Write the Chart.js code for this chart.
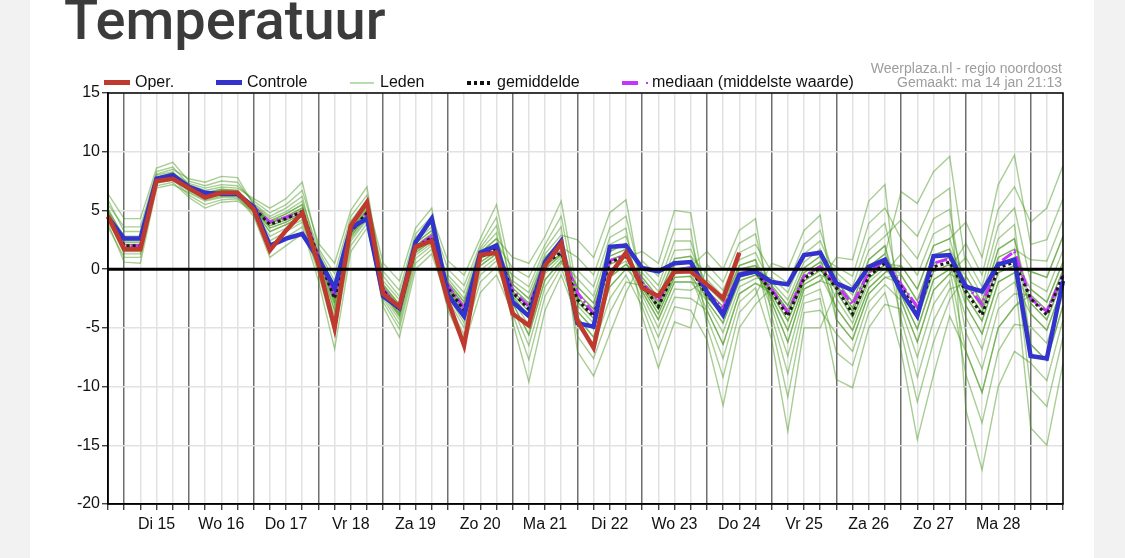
<!DOCTYPE html>
<html>
<head>
<meta charset="utf-8">
<script src="https://cdn.jsdelivr.net/npm/chart.js@4.4.1/dist/chart.umd.min.js"></script>
<style>
html,body{margin:0;padding:0;}
body{width:1125px;height:558px;background:#f2f2f2;position:relative;overflow:hidden;font-family:"Liberation Sans",Arial,sans-serif;}
#panel{position:absolute;left:30px;top:0;width:1064px;height:558px;background:#fff;}
#cv{position:absolute;left:0;top:0;}
#title{position:absolute;left:64px;top:-8px;font-family:Roboto,sans-serif;font-weight:500;font-size:56px;line-height:56px;color:#3b3b3b;white-space:nowrap;}
.lg{position:absolute;top:74px;font-size:16px;line-height:16px;color:#111;white-space:nowrap;}
.sw{position:absolute;}
.src{position:absolute;right:63px;font-size:14px;line-height:14px;color:#9d9d9d;white-space:nowrap;}
</style>
</head>
<body>
<div id="panel"></div>
<canvas id="cv" width="1125" height="558"></canvas>
<div id="title">Temperatuur</div>

<div class="sw" style="left:104px;top:80px;width:26px;height:5px;background:#c0392f;"></div>
<div class="lg" style="left:135px;">Oper.</div>
<div class="sw" style="left:216px;top:80px;width:26px;height:5px;background:#3232cc;"></div>
<div class="lg" style="left:247px;">Controle</div>
<div class="sw" style="left:350px;top:82px;width:24px;height:1.5px;background:#b9dcae;"></div>
<div class="lg" style="left:380px;">Leden</div>
<div class="sw" style="left:467px;top:81px;width:3.5px;height:3.5px;background:#111;"></div>
<div class="sw" style="left:473.5px;top:81px;width:3.5px;height:3.5px;background:#111;"></div>
<div class="sw" style="left:480px;top:81px;width:3.5px;height:3.5px;background:#111;"></div>
<div class="sw" style="left:486.5px;top:81px;width:3.5px;height:3.5px;background:#111;"></div>
<div class="lg" style="left:497px;">gemiddelde</div>
<div class="sw" style="left:622px;top:81px;width:16px;height:4px;background:#c832ff;"></div>
<div class="sw" style="left:645.5px;top:82px;width:2px;height:2px;background:#c832ff;"></div>
<div class="lg" style="left:652px;">mediaan (middelste waarde)</div>

<div class="src" style="top:61px;">Weerplaza.nl - regio noordoost</div>
<div class="src" style="top:75px;">Gemaakt: ma 14 jan 21:13</div>

<script>
// ---- categories / tick labels ----
const dayLabels = ['Di 15','Wo 16','Do 17','Vr 18','Za 19','Zo 20','Ma 21','Di 22','Wo 23','Do 24','Vr 25','Za 26','Zo 27','Ma 28'];
const hoursOfDay = ['00:00','06:00','12:00','18:00'];
const yTicks = [-20,-15,-10,-5,0,5,10,15];

// ---- series values (°C), 6-hourly from ma 14 18:00 ----
const oper = [4.5, 1.7,1.7,7.5,7.7, 6.9,6.1,6.5,6.5, 5.1,1.6,3.3,4.8, 0.4,-5.0,3.7,5.7, -2.1,-3.2,1.9,2.4, -2.7,-6.5,1.2,1.4, -3.8,-4.8,0.3,2.2, -4.4,-6.7,-0.5,1.4, -1.6,-2.3,-0.2,-0.2, -1.3,-2.5,1.4];
const controle = [4.4, 2.6,2.6,7.7,8.0, 7.0,6.5,6.4,6.4, 5.3,2.0,2.6,3.0, 0.9,-1.6,3.5,4.3, -2.3,-3.3,2.3,4.3, -2.2,-4.0,1.4,2.0, -2.8,-4.0,0.6,2.4, -4.6,-4.9,1.9,2.0, 0.1,-0.2,0.5,0.6, -1.9,-3.9,-0.5,-0.2, -1.1,-1.3,1.2,1.4, -1.2,-1.8,0.2,0.8, -1.9,-4.0,1.1,1.2, -1.5,-1.9,0.4,0.8, -7.4,-7.6,-1.0];
const gemiddelde = [4.5, 2.0,2.0,7.6,7.9, 6.9,6.3,6.5,6.5, 5.2,3.8,4.3,4.9, 1.0,-2.5,3.2,4.8, -1.8,-3.5,1.8,2.7, -1.6,-3.5,1.0,1.8, -2.0,-3.4,0.5,1.4, -2.6,-4.0,0.6,1.1, -1.3,-3.2,-0.2,0.0, -2.2,-3.6,-0.5,-0.2, -1.9,-4.0,-0.8,0.1, -1.6,-3.8,-0.6,0.5, -1.5,-3.8,0.2,0.6, -1.9,-3.9,0.1,0.6, -2.5,-3.9,-0.5];
const mediaan = [4.5, 2.0,2.0,7.6,7.9, 6.9,6.3,6.5,6.5, 5.3,4.0,4.4,4.9, 1.1,-2.3,3.3,4.8, -1.7,-3.4,1.9,2.8, -1.4,-3.3,1.1,1.9, -1.8,-3.2,0.6,1.5, -2.0,-3.8,0.7,1.2, -1.1,-2.7,-0.1,0.1, -2.0,-3.3,-0.4,-0.1, -1.7,-3.7,-0.6,0.2, -1.3,-3.0,-0.3,0.8, -1.3,-3.2,0.5,0.9, -1.3,-3.0,0.5,1.5, -2.5,-3.6,-0.5];

// ---- ensemble members (Leden) ----
const leden01 = [4.7, 1.9,1.9,7.6,7.9, 7.0,6.4,6.7,6.6, 5.1,3.5,4.0,4.7, 1.3,-1.8,3.6,5.3, -2.3,-4.3,1.2,2.2, -0.8,-2.5,1.6,3.1, -3.3,-6.5,-1.5,0.5, -0.1,-1.5,2.7,3.5, -4.0,-8.4,-4.5,-5.0, 0.4,-1.1,2.2,3.0, -2.8,-6.2,-1.7,-1.0, 1.0,0.8,5.8,7.2, -5.4,-11.3,-6.2,-2.6, -0.6,-2.8,1.7,2.6, -2.9,-4.3,-0.8];
const leden02 = [4.6, 2.3,2.3,7.7,8.0, 6.8,6.2,6.4,6.3, 5.4,4.1,4.7,5.5, 0.6,-3.5,2.8,4.5, -1.0,-2.6,2.4,3.6, -2.6,-5.0,-0.5,0.7, -0.5,-1.5,1.7,3.6, -7.0,-9.1,-5.5,-2.0, 0.7,-0.6,3.4,3.4, -4.9,-9.2,-3.7,-2.2, 0.5,0.0,3.3,4.6, -4.3,-6.0,-2.1,-0.7, -1.2,-3.4,0.5,1.0, -2.3,-4.4,-0.3,0.3, -0.2,-0.7,2.8];
const leden03 = [4.8, 2.1,2.1,7.6,8.0, 7.1,6.5,6.8,6.7, 5.2,3.7,4.2,4.8, 1.4,-1.5,3.8,5.6, -2.0,-3.8,1.6,2.5, -0.5,-2.0,1.8,3.7, -1.6,-2.9,0.8,1.9, 1.0,-0.5,3.5,4.5, -1.2,-3.1,0.0,0.2, 1.5,0.0,3.3,4.3, -4.0,-8.9,-2.9,-2.5, -9.4,-10.1,-5.0,-3.0, -3.4,-7.5,-3.0,-1.0, -9.0,-13.1,-7.0,-4.7, -4.9,-6.3,-2.2];
const leden04 = [4.5, 1.7,1.7,7.5,7.8, 6.9,6.3,6.5,6.4, 5.3,4.0,4.5,5.2, 1.0,-2.4,3.3,4.9, -1.3,-3.0,2.2,3.3, -1.3,-3.1,1.2,2.2, 0.1,-0.7,2.1,4.5, -2.8,-4.2,0.4,1.0, 1.5,0.5,5.0,4.8, -3.0,-5.4,-1.5,-0.8, -0.7,-2.0,1.3,2.4, -0.7,-2.2,1.6,2.8, 4.2,2.8,5.9,6.9, -12.0,-17.1,-10.0,-7.0, -8.0,-9.5,-4.3];
const leden05 = [5.0, 2.8,2.8,8.0,8.3, 6.9,6.3,6.6,6.5, 5.0,3.2,3.8,4.5, 0.8,-3.0,3.0,4.6, -2.5,-4.7,0.9,2.0, -3.5,-6.5,-2.0,-0.5, -3.8,-7.7,-2.3,0.1, -3.6,-5.1,-0.7,0.4, -0.7,-2.4,0.9,1.1, -0.4,-1.8,1.4,2.1, -0.2,-1.2,2.1,3.3, -1.3,-3.3,0.2,1.3, 6.6,5.6,8.3,9.6, 0.2,-2.2,2.6,3.8, -6.4,-7.8,-3.1];
const leden06 = [4.4, 1.8,1.8,7.5,7.8, 6.6,5.9,6.2,6.2, 5.2,3.9,4.4,5.0, 1.1,-2.1,3.4,5.1, -0.2,-1.8,3.0,4.5, 0.7,-0.5,2.6,5.5, -1.0,-2.0,1.3,2.9, 2.5,1.0,4.8,5.9, -1.6,-3.8,-0.7,-0.6, -4.1,-7.6,-2.8,-1.6, -6.0,-13.8,-5.0,-5.0, -1.9,-4.1,-0.8,0.4, 0.3,-1.7,2.0,2.6, 4.0,1.0,7.2,9.7, 2.1,2.5,6.0];
const leden07 = [5.2, 2.5,2.5,7.8,8.2, 7.3,6.9,7.2,7.1, 5.8,4.8,5.5,6.7, 2.2,0.5,5.0,7.0, -1.5,-3.2,2.0,3.0, -1.7,-3.6,0.9,1.7, -2.6,-4.8,-0.4,1.0, -1.5,-2.9,1.5,2.2, 0.1,-1.4,2.4,2.4, -2.1,-3.5,-0.3,0.0, -3.3,-7.4,-2.3,-1.7, -7.1,-8.2,-3.7,-2.0, -7.0,-14.5,-9.0,-4.0, -7.0,-10.5,-5.0,-3.2, -1.7,-2.8,0.6];
const leden08 = [4.3, 1.3,1.3,7.3,7.6, 6.7,6.1,6.3,6.3, 4.7,1.8,2.7,3.6, -1.0,-6.8,1.5,3.5, -1.9,-3.6,1.7,2.6, -1.1,-2.8,1.4,2.6, 1.0,0.5,2.8,5.8, -2.0,-3.4,1.1,1.7, -2.2,-5.0,-1.7,-1.8, -0.9,-2.3,0.8,1.4, -1.4,-3.1,0.1,1.1, 0.2,-0.6,3.9,5.2, 2.6,0.9,4.3,5.1, -3.1,-5.5,-1.1,-0.3, -13.5,-15.0,-8.0];
const leden09 = [5.5, 3.6,3.6,8.3,8.7, 7.2,6.7,7.0,6.9, 6.0,5.2,6.0,7.4, 1.8,-0.4,4.5,6.3, -0.6,-2.3,2.7,4.0, 0.0,-1.4,2.1,4.4, -2.1,-3.6,0.3,1.3, -4.8,-6.6,-2.5,-0.5, -3.2,-6.8,-3.2,-3.5, -6.0,-11.6,-5.0,-3.0, -1.6,-3.5,-0.3,0.6, -0.3,-1.5,2.6,3.9, -2.2,-5.1,-0.9,0.0, 2.2,-0.5,5.1,7.0, 4.0,5.2,8.8];
const leden10 = [4.1, 1.5,1.5,7.4,7.7, 6.3,5.5,5.9,6.0, 5.0,2.8,3.5,4.2, 0.0,-4.7,2.4,4.2, -3.2,-5.8,0.0,1.3, -2.9,-5.6,-1.1,0.2, -2.9,-5.6,-0.9,0.7, -0.8,-2.3,2.1,2.8, -1.0,-2.8,0.4,0.6, -2.4,-3.9,-0.7,-0.3, -2.4,-5.2,-1.3,-0.5, -3.3,-5.2,-1.6,-0.3, 1.3,-0.5,3.0,3.8, -1.7,-3.7,0.4,1.0, -10.2,-11.7,-5.8];
const leden11 = [5.9, 3.2,3.2,8.1,8.5, 7.7,7.4,7.9,7.8, 5.5,4.3,4.9,5.8, 1.6,-1.0,4.1,5.9, 0.5,-1.0,3.5,5.2, -1.8,-3.9,0.6,1.5, -4.5,-9.6,-3.5,-0.5, -4.1,-5.8,-1.5,0.0, -0.3,-1.9,1.6,1.7, -1.4,-2.8,0.3,0.8, -4.8,-10.9,-3.7,-3.5, -5.5,-7.0,-2.8,-1.3, -2.7,-6.2,-1.8,-0.4, 1.0,-1.5,3.7,5.2, -1.1,-1.9,1.6];
const leden12 = [3.9, 0.6,0.5,6.9,7.2, 6.5,5.8,6.1,6.1, 4.5,1.0,2.0,3.0, 0.3,-4.0,2.6,4.3, -2.1,-4.0,1.4,2.4, -1.5,-3.4,1.1,1.9, -1.3,-2.5,1.0,2.4, -3.1,-4.6,-0.1,0.7, -2.7,-5.8,-2.4,-2.5, -3.5,-6.4,-2.1,-1.2, -2.1,-4.4,-1.0,-0.1, -1.5,-3.6,-0.3,0.8, -0.5,-2.7,1.2,1.7, -5.4,-8.5,-3.4,-2.1, -2.2,-3.5,-0.1];
const leden13 = [6.4, 4.3,4.3,8.6,9.1, 7.5,7.1,7.5,7.4, 5.6,4.5,5.2,6.2, 0.9,-2.7,3.1,4.7, -1.7,-3.4,1.9,2.8, -2.0,-4.2,0.3,1.3, -1.9,-3.2,0.6,1.6, -5.7,-7.6,-3.7,-1.1, -1.4,-3.4,-0.4,-0.2, -1.8,-3.2,0.0,0.3, -1.1,-2.6,0.6,1.7, -1.0,-2.8,0.8,2.0, -4.3,-9.2,-4.4,-1.7, -1.2,-3.3,1.0,1.7, 0.8,0.7,4.2];
const leden14 = [3.6, 1.0,1.0,7.1,7.4, 6.1,5.2,5.7,5.8, 4.9,2.4,3.2,4.0, -0.4,-5.5,2.0,3.9, -2.8,-5.1,0.5,1.7, -2.3,-4.6,-0.1,1.0, -2.3,-4.1,0.0,1.2, -2.4,-3.8,0.8,1.3, -1.9,-4.3,-1.1,-1.1, -2.7,-4.6,-1.0,-0.5, -1.8,-3.8,-0.6,0.3, -2.5,-4.6,-1.1,0.1, -1.7,-4.2,-0.2,0.4, -4.1,-6.8,-2.1,-1.1, -3.8,-5.2,-1.4];
const leden15 = [4.6, 1.8,1.8,7.5,7.8, 6.9,6.3,6.6,6.5, 5.2,3.7,4.2,4.8, 1.1,-2.1,3.4,5.1, -1.7,-3.4,1.9,2.8, -1.8,-3.9,0.6,1.5, -2.1,-3.6,0.3,1.3, -2.4,-3.8,0.8,1.3, -1.6,-3.8,-0.7,-0.6, -2.4,-3.9,-0.7,-0.3, -1.6,-3.5,-0.3,0.6, -1.9,-4.1,-0.8,0.4, -1.2,-3.4,0.5,1.0, -3.1,-5.5,-1.1,-0.3, -2.9,-4.3,-0.8];
const leden16 = [4.8, 2.5,2.5,7.8,8.2, 6.9,6.3,6.5,6.4, 5.2,3.9,4.4,5.0, 0.8,-3.0,3.0,4.6, -1.5,-3.2,2.0,3.0, -1.1,-2.8,1.4,2.6, -1.9,-3.2,0.6,1.6, -3.6,-5.1,-0.7,0.4, -1.0,-2.8,0.4,0.6, -2.1,-3.5,-0.3,0.0, -2.4,-5.2,-1.3,-0.5, -1.0,-2.8,0.8,2.0, -2.7,-6.2,-1.8,-0.4, -1.2,-3.3,1.0,1.7, -6.4,-7.8,-3.1];
const leden17 = [4.4, 1.9,1.9,7.6,7.9, 7.0,6.4,6.7,6.6, 5.4,4.1,4.7,5.5, 0.9,-2.7,3.1,4.7, -2.1,-4.0,1.4,2.4, -1.7,-3.6,0.9,1.7, -1.3,-2.5,1.0,2.4, -2.0,-3.4,1.1,1.7, -1.4,-3.4,-0.4,-0.2, -3.5,-6.4,-2.1,-1.2, -1.8,-3.8,-0.6,0.3, -3.3,-5.2,-1.6,-0.3, 0.3,-1.7,2.0,2.6, -2.3,-4.4,-0.3,0.3, -0.2,-0.7,2.8];
const leden18 = [5.0, 2.1,2.1,7.6,8.0, 6.8,6.2,6.4,6.3, 5.0,3.2,3.8,4.5, 1.3,-1.8,3.6,5.3, -1.9,-3.6,1.7,2.6, -1.5,-3.4,1.1,1.9, -2.9,-5.6,-0.9,0.7, -2.8,-4.2,0.4,1.0, -0.7,-2.4,0.9,1.1, -1.8,-3.2,0.0,0.3, -2.8,-6.2,-1.7,-1.0, -1.5,-3.6,-0.3,0.8, -2.2,-5.1,-0.9,0.0, -7.0,-10.5,-5.0,-3.2, -2.2,-3.5,-0.1];
const leden19 = [4.5, 2.3,2.3,7.7,8.0, 7.1,6.5,6.8,6.7, 5.1,3.5,4.0,4.7, 1.0,-2.4,3.3,4.9, -1.3,-3.0,2.2,3.3, -2.0,-4.2,0.3,1.3, -1.6,-2.9,0.8,1.9, -4.1,-5.8,-1.5,0.0, -1.2,-3.1,0.0,0.2, -2.7,-4.6,-1.0,-0.5, -1.4,-3.1,0.1,1.1, -4.3,-6.0,-2.1,-0.7, -0.5,-2.7,1.2,1.7, -0.6,-2.8,1.7,2.6, -3.8,-5.2,-1.4];
const leden20 = [4.7, 1.7,1.7,7.5,7.8, 6.7,6.1,6.3,6.3, 5.3,4.0,4.5,5.2, 0.6,-3.5,2.8,4.5, -2.0,-3.8,1.6,2.5, -1.3,-3.1,1.2,2.2, -2.3,-4.1,0.0,1.2, -1.5,-2.9,1.5,2.2, -1.9,-4.3,-1.1,-1.1, -1.4,-2.8,0.3,0.8, -2.1,-4.4,-1.0,-0.1, -1.3,-3.3,0.2,1.3, -1.7,-4.2,-0.2,0.4, -1.7,-3.7,0.4,1.0, -1.7,-2.8,0.6];

// ---- build category table from the day labels ----
const categories = ['Ma 14 18:00'];
dayLabels.forEach(d => hoursOfDay.forEach(h => categories.push(d + ' ' + h)));
hoursOfDay.slice(0, 3).forEach(h => categories.push('Di 29 ' + h));

const members = [leden01,leden02,leden03,leden04,leden05,leden06,leden07,leden08,leden09,leden10,
                 leden11,leden12,leden13,leden14,leden15,leden16,leden17,leden18,leden19,leden20];

const datasets = [
  {label:'Oper.', data:oper, borderColor:'#c0392f', borderWidth:4.5, order:0},
  {label:'Controle', data:controle, borderColor:'#3232cc', borderWidth:4.5, order:1},
  {label:'gemiddelde', data:gemiddelde, borderColor:'#1a1a1a', borderWidth:3, borderDash:[3,3], order:2},
  {label:'mediaan (middelste waarde)', data:mediaan, borderColor:'#c832ff', borderWidth:3, borderDash:[12,3,2,3], order:3}
];
members.forEach((m, k) => datasets.push({label:'Leden ' + (k + 1), data:m, borderColor:'rgba(66,148,22,0.46)', borderWidth:1.4, order:10 + k}));
datasets.forEach(d => { d.pointRadius = 0; d.tension = 0; d.fill = false; d.borderCapStyle = 'butt'; d.borderJoinStyle = 'miter'; });

const framePlugin = {
  id: 'frame',
  afterDatasetsDraw(chart) {
    const {ctx, chartArea: a, scales} = chart;
    const y0 = scales.y.getPixelForValue(0);
    ctx.save();
    ctx.strokeStyle = '#000';
    ctx.lineWidth = 3;
    ctx.beginPath(); ctx.moveTo(a.left, y0); ctx.lineTo(a.right, y0); ctx.stroke();
    ctx.lineWidth = 1.5;
    ctx.strokeRect(a.left, a.top, a.right - a.left, a.bottom - a.top);
    ctx.restore();
  }
};

Chart.defaults.font.family = '"Liberation Sans", Arial, sans-serif';
Chart.defaults.font.size = 16;
Chart.defaults.color = '#111';

new Chart(document.getElementById('cv'), {
  type: 'line',
  data: {labels: categories, datasets: datasets},
  plugins: [framePlugin],
  options: {
    responsive: false,
    animation: false,
    events: [],
    layout: {padding: {left: 58, top: 93, right: 62, bottom: 24}},
    plugins: {legend: {display: false}, tooltip: {enabled: false}, title: {display: false}},
    scales: {
      x: {
        type: 'category',
        offset: false,
        afterFit: s => { s.height = 30; },
        border: {display: true, color: '#000', width: 1.5},
        grid: {
          color: c => (c.index % 4 === 1) ? '#6e6e6e' : '#e2e2e2',
          lineWidth: 1.5,
          drawTicks: true,
          tickLength: 6,
          tickColor: '#222',
          tickWidth: 1.2
        },
        ticks: {
          autoSkip: false,
          maxRotation: 0,
          minRotation: 0,
          padding: 5,
          color: '#111',
          callback: (v, i) => ((i - 3) % 4 === 0 && (i - 3) / 4 < dayLabels.length) ? dayLabels[(i - 3) / 4] : ''
        }
      },
      y: {
        min: -20,
        max: 15,
        afterFit: s => { s.width = 50; },
        afterBuildTicks: s => { s.ticks = yTicks.map(v => ({value: v})); },
        border: {display: true, color: '#000', width: 1.5},
        grid: {
          color: '#e2e2e2',
          lineWidth: 1.5,
          drawTicks: true,
          tickLength: 6,
          tickColor: '#222',
          tickWidth: 1.2
        },
        ticks: {
          padding: 2,
          color: '#111',
          callback: v => String(v)
        }
      }
    }
  }
});
</script>
</body>
</html>
